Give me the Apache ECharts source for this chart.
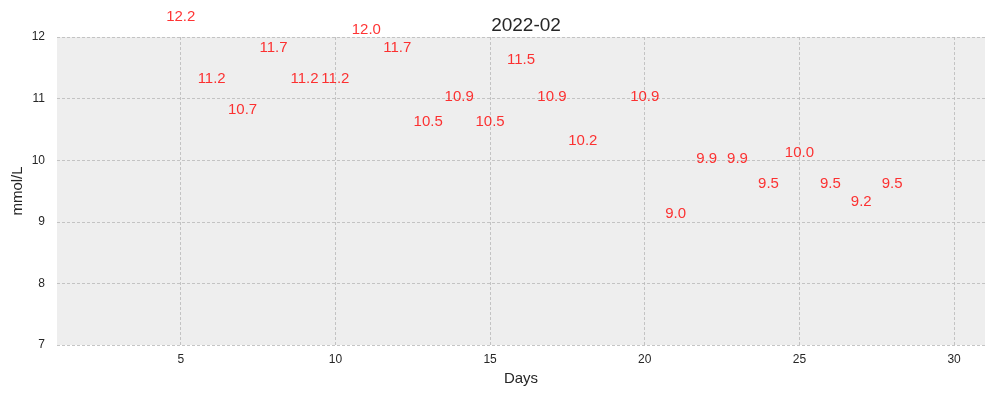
<!DOCTYPE html>
<html>
<head>
<meta charset="utf-8">
<script src="https://cdn.jsdelivr.net/npm/echarts@6/dist/echarts.min.js"></script>
<style>html,body{margin:0;padding:0;background:#fff;}#c{width:995px;height:397px;}</style>
</head>
<body>
<div id="c"></div>
<script>
var days = [5, 6, 7, 8, 9, 10, 11, 12, 13, 14, 15, 16, 17, 18, 20, 21, 22, 23, 24, 25, 26, 27, 28];
var values = [12.2, 11.2, 10.7, 11.7, 11.2, 11.2, 12.0, 11.7, 10.5, 10.9, 10.5, 11.5, 10.9, 10.2, 10.9, 9.0, 9.9, 9.9, 9.5, 10.0, 9.5, 9.2, 9.5];
var xTicks = [5, 10, 15, 20, 25, 30];
var yTicks = [7, 8, 9, 10, 11, 12];
var title = '2022-02';

var font = 'Liberation Sans, Arial, sans-serif';
var chart = echarts.init(document.getElementById('c'), null, {renderer: 'canvas'});
chart.setOption({
  animation: false,
  title: {
    text: title, left: 521, top: 11, textAlign: 'center',
    textStyle: {fontFamily: font, fontSize: 19, fontWeight: 'normal', color: '#262626'}
  },
  grid: {left: 57, right: 10, top: 37, bottom: 52, show: true, backgroundColor: '#EEEEEE', borderWidth: 0, outerBoundsMode: 'none'},
  xAxis: {
    type: 'value', min: 1, max: 31,
    name: 'Days', nameLocation: 'middle', nameGap: 25,
    nameTextStyle: {fontFamily: font, fontSize: 15, color: '#262626'},
    axisLine: {show: false},
    axisTick: {show: false, customValues: xTicks},
    axisLabel: {customValues: xTicks, fontFamily: font, fontSize: 12, color: '#262626', margin: 9},
    splitLine: {show: true, lineStyle: {color: '#b8b8b8', type: [3, 2], width: 0.8}}
  },
  yAxis: {
    type: 'value', min: 7, max: 12, interval: 1,
    name: 'mmol/L', nameLocation: 'middle', nameGap: 32, nameMoveOverlap: false,
    nameTextStyle: {fontFamily: font, fontSize: 15, color: '#262626'},
    axisLine: {show: false}, axisTick: {show: false},
    axisLabel: {fontFamily: font, fontSize: 12, color: '#262626', margin: 12},
    splitLine: {show: true, lineStyle: {color: '#b8b8b8', type: [3, 2], width: 0.8}}
  },
  series: [{
    type: 'scatter',
    clip: false,
    symbolSize: 0,
    data: days.map(function (d, i) { return [d, values[i]]; }),
    label: {
      show: true, position: 'top', distance: 0,
      formatter: function (p) { return p.value[1].toFixed(1); },
      fontFamily: font, fontSize: 15, color: '#ff0000'
    }
  }]
});
</script>
</body>
</html>
